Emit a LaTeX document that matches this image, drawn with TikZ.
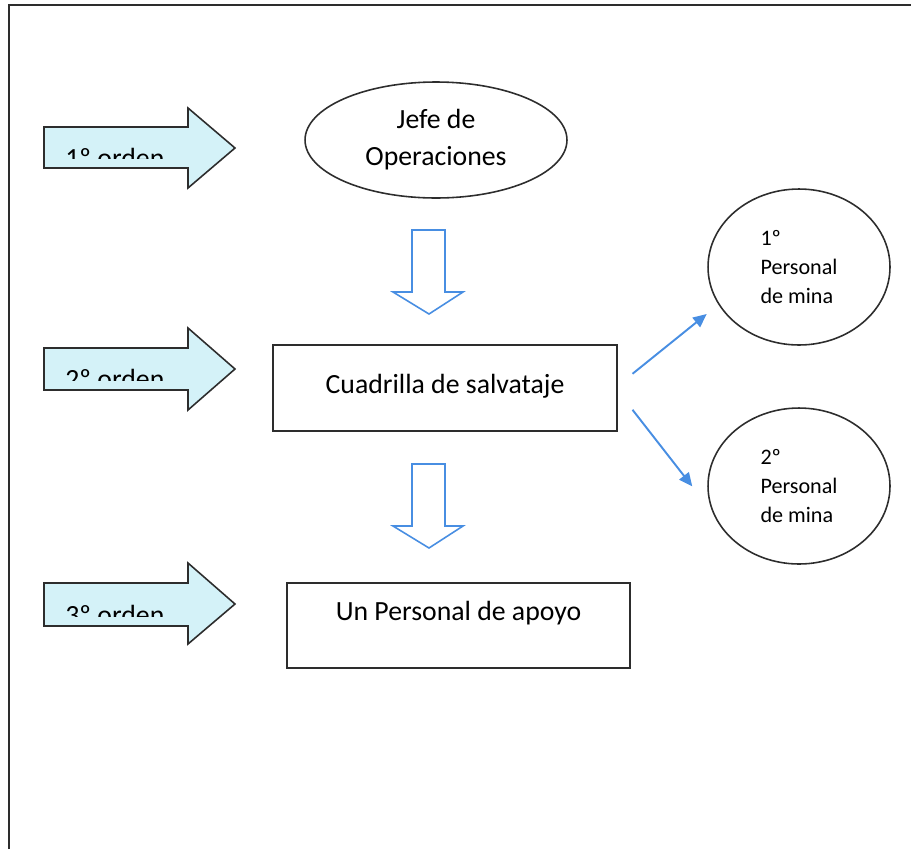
\documentclass[tikz,border=0pt]{standalone}
\usepackage{fontspec}
\setmainfont{Carlito}
\usetikzlibrary{positioning, shapes.geometric, arrows.meta}
\definecolor{celeste}{RGB}{212,242,248}
\definecolor{azul}{RGB}{72,142,226}
\definecolor{borde}{RGB}{45,45,45}

\tikzset{
    orden/.style={draw=borde, fill=celeste, line width=0.9pt, line join=miter},
    bajada/.style={draw=azul, fill=white, line width=0.9pt, line join=miter},
    caja/.style={draw=borde, line width=0.9pt, rectangle, inner sep=0pt,
        minimum width=6.87cm, font=\fontsize{15.8}{21}\selectfont},
    burbuja/.style={draw=borde, line width=0.9pt, ellipse, inner sep=0pt,
        minimum width=3.64cm, minimum height=3.12cm, align=left,
        font=\fontsize{12.6}{16.4}\selectfont},
    flecha/.style={azul, line width=1.1pt, -{Triangle[length=0.27cm, width=0.24cm]}},
    rotulo/.style={anchor=base west, inner sep=0pt, font=\fontsize{15.8}{21}\selectfont}
}

\begin{document}
\begin{tikzpicture}[x=0.02cm, y=-0.02cm]
    \useasboundingbox (0,0) rectangle (911,849);
    \draw [borde, line width=1.2pt] (9,849) -- (9,5) -- (911,5);

    % flechas de orden
    \draw [orden] (44,127) -- (188,127) -- (188,108) -- (235,148) -- (188,188) -- (188,168) -- (44,168) -- cycle;
    \draw [orden] (44,348) -- (188,348) -- (188,328) -- (235,369) -- (188,410) -- (188,390) -- (44,390) -- cycle;
    \draw [orden] (44,583) -- (188,583) -- (188,563) -- (235,604) -- (188,644) -- (188,626) -- (44,626) -- cycle;
    \begin{scope}
        \clip (45,128) rectangle (187,158);
        \node [rotulo] (o1) at (65,167) {1º orden};
    \end{scope}
    \begin{scope}
        \clip (45,349) rectangle (187,380);
        \node [rotulo] (o2) at (65,388) {2º orden};
    \end{scope}
    \begin{scope}
        \clip (45,584) rectangle (187,616);
        \node [rotulo] (o3) at (65,624) {3º orden};
    \end{scope}

    \node [draw=borde, line width=0.9pt, ellipse, inner sep=0pt, minimum width=5.24cm,
        minimum height=2.32cm, align=center, font=\fontsize{15.8}{21}\selectfont]
        (jefe) at (436,140) {Jefe de\\Operaciones};

    \node [caja, anchor=north, text height=0.98cm, text depth=0.74cm] (cuad) at (445,344) {Cuadrilla de salvataje};
    \node [caja, anchor=north, text height=0.76cm, text depth=0.94cm] (apoyo) at (458.5,582) {Un Personal de apoyo};

    \node [burbuja] (per1) at (799,267) {1º\\Personal\\de mina};
    \node [burbuja] (per2) at (799,486) {2º\\Personal\\de mina};

    % flechas huecas hacia abajo
    \draw [bajada] (412,230) -- (445,230) -- (445,292) -- (463,292) -- (429,314) -- (393,292) -- (412,292) -- cycle;
    \draw [bajada] (412,464) -- (445,464) -- (445,526) -- (463,526) -- (429,548) -- (393,526) -- (412,526) -- cycle;

    \draw [flecha, shorten >=0.3cm] ([xshift=0.3cm, yshift=0.28cm]cuad.east) -- (per1.205);
    \draw [flecha, shorten >=0.66cm] ([xshift=0.3cm, yshift=-0.44cm]cuad.east) -- (per2.197);
\end{tikzpicture}
\end{document}
